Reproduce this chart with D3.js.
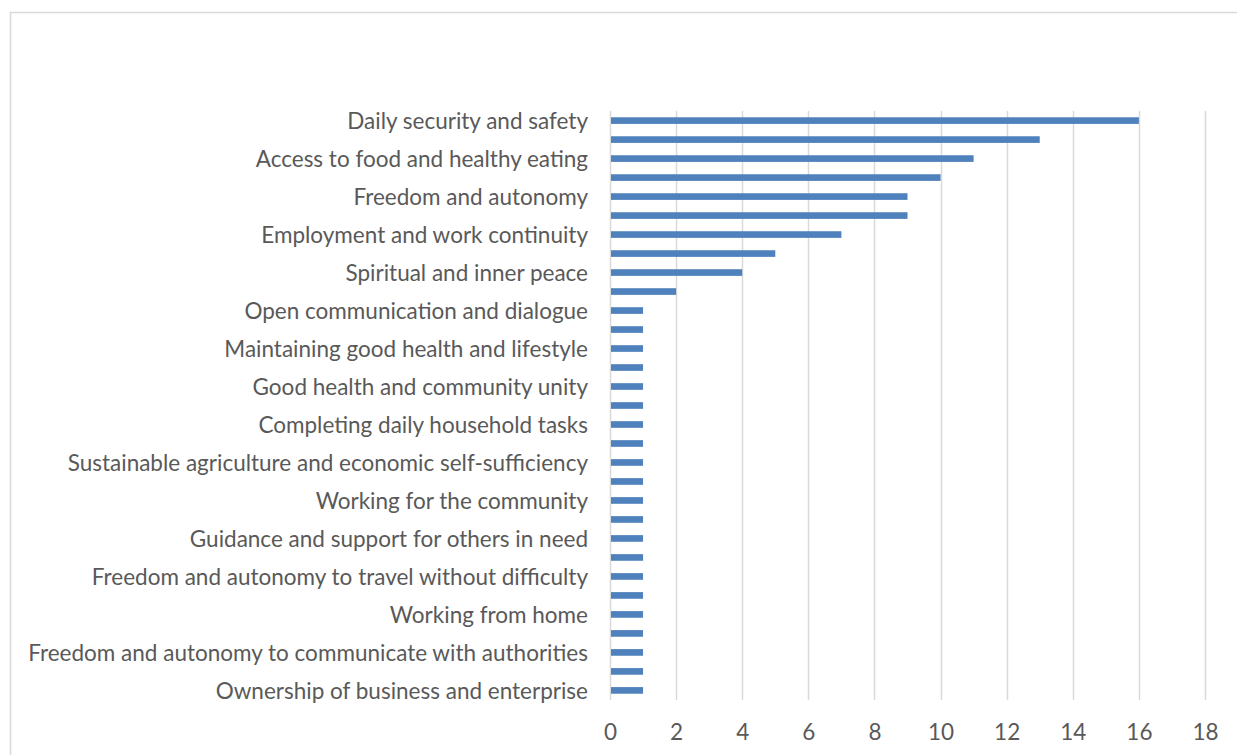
<!DOCTYPE html>
<html>
<head>
<meta charset="utf-8">
<script src="https://cdn.jsdelivr.net/npm/d3@7"></script>
<style>
  html, body { margin: 0; padding: 0; background: #fff; }
  svg { display: block; }
</style>
</head>
<body>
<svg id="chart" width="1237" height="755"></svg>
<script>
// Category labels, top to bottom; blank entries are rows whose label is skipped on the axis
const categories = [
  "Daily security and safety", "",
  "Access to food and healthy eating", "",
  "Freedom and autonomy", "",
  "Employment and work continuity", "",
  "Spiritual and inner peace", "",
  "Open communication and dialogue", "",
  "Maintaining good health and lifestyle", "",
  "Good health and community unity", "",
  "Completing daily household tasks", "",
  "Sustainable agriculture and economic self-sufficiency", "",
  "Working for the community", "",
  "Guidance and support for others in need", "",
  "Freedom and autonomy to travel without difficulty", "",
  "Working from home", "",
  "Freedom and autonomy to communicate with authorities", "",
  "Ownership of business and enterprise"
];
const values = [16, 13, 11, 10, 9, 9, 7, 5, 4, 2,
  1, 1, 1, 1, 1, 1, 1, 1, 1, 1, 1, 1, 1, 1, 1, 1, 1, 1, 1, 1, 1];
const xTicks = [0, 2, 4, 6, 8, 10, 12, 14, 16, 18];

const svg = d3.select("#chart");
const font = "Lato, 'Open Sans', sans-serif";
const fontSize = "22.5px";
const textColor = "#595959";

// Chart frame
svg.append("rect")
  .attr("x", 10.5).attr("y", 12.5)
  .attr("width", 1300).attr("height", 800)
  .attr("fill", "none").attr("stroke", "#d9d9d9").attr("stroke-width", 1.5);

const plot = { left: 610, right: 1205, top: 111, bottom: 700 };

const x = d3.scaleLinear().domain([0, 18]).range([plot.left, plot.right]);
const y = d3.scaleBand()
  .domain(d3.range(categories.length))
  .range([plot.top, plot.bottom])
  .paddingInner(0.65).paddingOuter(0.33);

// Vertical gridlines
svg.append("g")
  .selectAll("line")
  .data(xTicks)
  .join("line")
  .attr("x1", d => Math.round(x(d)) + 0.5).attr("x2", d => Math.round(x(d)) + 0.5)
  .attr("y1", plot.top).attr("y2", plot.bottom)
  .attr("stroke", "#d9d9d9").attr("stroke-width", 1.5);

// Bars
svg.append("g")
  .selectAll("rect")
  .data(values)
  .join("rect")
  .attr("x", x(0) + 1)
  .attr("y", (d, i) => y(i))
  .attr("width", d => x(d) - x(0) - 1)
  .attr("height", y.bandwidth())
  .attr("fill", "#4f81bd");

// Category axis (labels only)
const yAxis = d3.axisLeft(y)
  .tickFormat(i => categories[i])
  .tickSize(0).tickPadding(22);
const gy = svg.append("g").attr("transform", `translate(${plot.left},0)`).call(yAxis);
gy.select(".domain").remove();
gy.selectAll("text")
  .attr("dy", "0.37em")
  .attr("fill", textColor)
  .style("font-family", font)
  .style("font-size", fontSize);

// Value axis (labels only)
const xAxis = d3.axisBottom(x).tickValues(xTicks).tickSize(0).tickPadding(24);
const gx = svg.append("g").attr("transform", `translate(0,${plot.bottom})`).call(xAxis);
gx.select(".domain").remove();
gx.selectAll("text")
  .attr("fill", textColor)
  .style("font-family", font)
  .style("font-size", fontSize);
</script>
</body>
</html>
